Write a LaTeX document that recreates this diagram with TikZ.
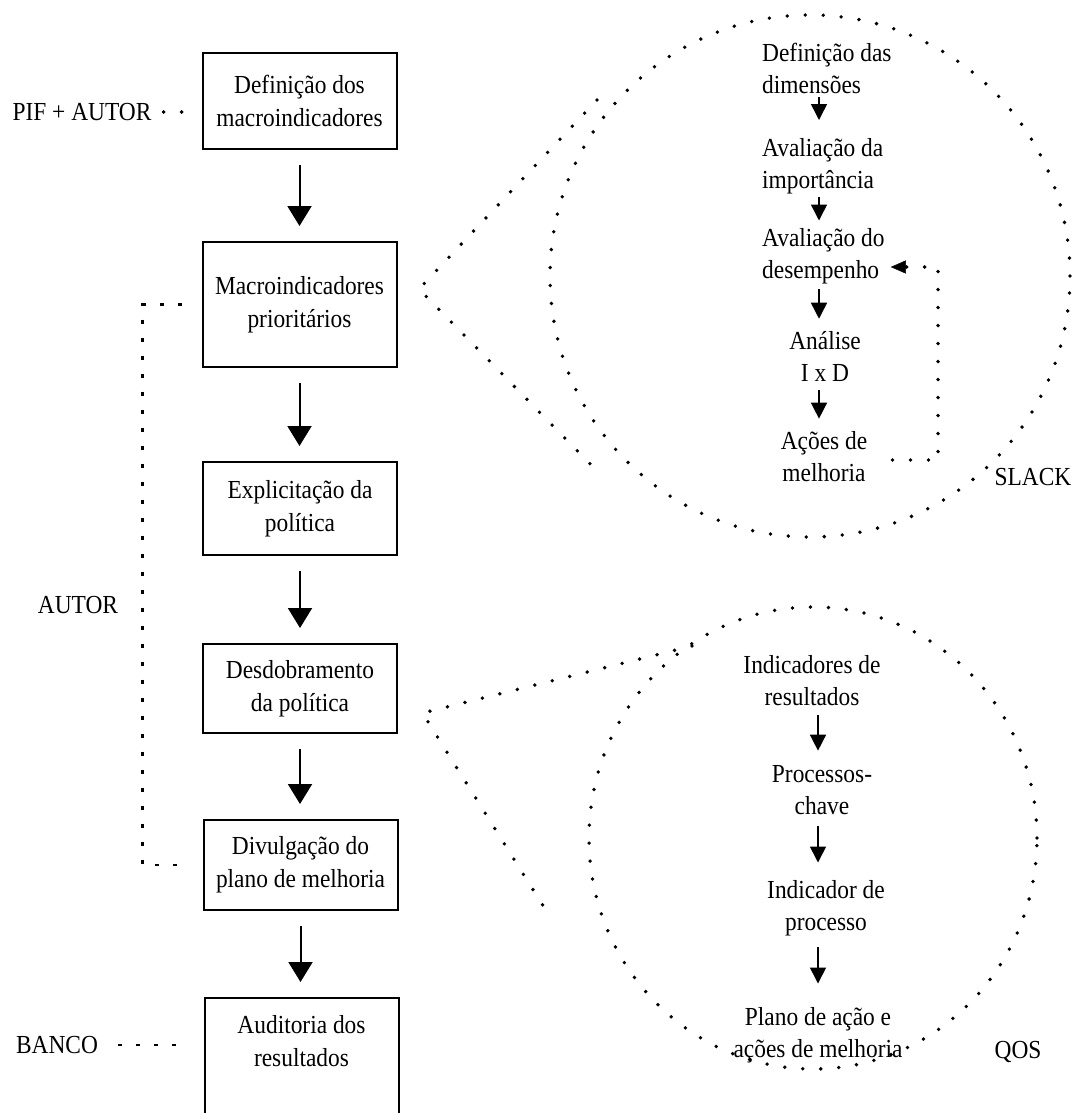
\documentclass[tikz,border=0pt]{standalone}
\usepackage{fontspec}
\newfontfamily\diagfont[FakeStretch=0.9]{Liberation Serif}
\newcommand\dgbox{\diagfont\fontsize{26}{33}\selectfont}
\newcommand\dginner{\diagfont\fontsize{26}{32}\selectfont}
\usetikzlibrary{arrows.meta,shapes.geometric}
\begin{document}
\begin{tikzpicture}[x=1pt,y=-1pt,
  flowbox/.style={draw, line width=2pt, minimum width=194pt, align=center, inner sep=0pt, font=\dgbox},
  lbl/.style={inner sep=0pt, align=center, font=\dgbox},
  stage/.style={inner sep=0pt, font=\dginner},
  flowarrow/.style={line width=2pt, -{Triangle[width=24pt,length=20pt]}, shorten <=15pt, shorten >=15pt},
  innerarrow/.style={line width=1.5pt, -{Triangle[width=16pt,length=16pt]}},
  dotline/.style={line width=3.8pt, line cap=round, dash pattern=on 0pt off 18pt},
  dashline/.style={line width=2.2pt, dash pattern=on 4pt off 14pt},
  zoomring/.style={ellipse, draw, dotline, inner sep=0pt}]

\useasboundingbox (0,0) rectangle (1090,1113);
\clip (0,0) rectangle (1090,1113);
\fill[white] (0,0) rectangle (1090,1113);

% main sequence of steps
\node[flowbox, minimum height=96pt]  (box1) at (299.5,101)  {Definição dos\\macroindicadores};
\node[flowbox, minimum height=125pt] (box2) at (299.5,304.5) {Macroindicadores\\prioritários};
\node[flowbox, minimum height=93pt]  (box3) at (300,508.5)  {Explicitação da\\política};
\node[flowbox, minimum height=89pt]  (box4) at (300,688.5)  {Desdobramento\\da política};
\node[flowbox, minimum height=90pt]  (box5) at (300.5,865)  {Divulgação do\\plano de melhoria};
\node[flowbox, minimum height=130pt] (box6) at (301.5,1063) {};
\node[lbl] (box6text) at (301.5,1041) {Auditoria dos\\resultados};

\draw[flowarrow] (box1.south) -- (box1.south |- box2.north);
\draw[flowarrow] (box2.south) -- (box2.south |- box3.north);
\draw[flowarrow] (box3.south) -- (box3.south |- box4.north);
\draw[flowarrow] (box4.south) -- (box4.south |- box5.north);
\draw[flowarrow] (box5.south) -- (box5.south |- box6.north);

% responsible parties
\node[lbl] (pif)   at (82,112)  {PIF + AUTOR};
\node[lbl] (autor) at (78,605)  {AUTOR};
\node[lbl] (banco) at (57,1045) {BANCO};
\draw[dotline, shorten <=12pt, shorten >=14pt] (pif.east) -- (pif.east -| box1.west);
\draw[dashline, shorten <=20pt, shorten >=26pt] (banco.east) -- (banco.east -| box6.west);
\draw[dashline] ([xshift=-20pt]box2.west) -- ++(-39,0) |- ([xshift=-20pt]box5.west);

% detail rings
\node[zoomring, minimum width=520pt, minimum height=522pt] (slack) at (810,276) {};
\node[zoomring, minimum width=448pt, minimum height=462pt] (qos) at (813,838) {};
\coordinate (sUp) at (597,100);
\coordinate (sLo) at (600,474);
\coordinate (qUp) at (692,646);
\coordinate (qLo) at (552,920);
\draw[dotline] (sUp) -- ([xshift=21.5pt,yshift=15.5pt]box2.east) -- (sLo);
\draw[dotline] (qUp) -- ([xshift=24.5pt,yshift=-24.5pt]box4.east) -- (qLo);

% SLACK method
\node[stage, align=left, anchor=west] (t1) at (762,68)    {Definição das\\dimensões};
\node[stage, align=left, anchor=west] (t2) at (762,166)   {Avaliação da\\importância};
\node[stage, align=left, anchor=west] (t3) at (762,256.5) {Avaliação do\\desempenho};
\node[stage, align=center] (t4) at (825,356) {Análise\\I x D};
\node[stage, align=center] (t5) at (824,457) {Ações de\\melhoria};
\node[lbl] (slacklbl) at (1033,477) {SLACK};

\coordinate (ax) at (819,0);
\draw[innerarrow, shorten <=4pt, shorten >=18pt] (t1.south -| ax) -- (t2.north -| ax);
\draw[innerarrow, shorten <=3pt, shorten >=8pt]  (t2.south -| ax) -- (t3.north -| ax);
\draw[innerarrow, shorten <=5pt, shorten >=12pt] (t3.south -| ax) -- (t4.north -| ax);
\draw[innerarrow, shorten <=9pt, shorten >=13pt] (t4.south -| ax) -- (t5.north -| ax);

\coordinate (fbLow) at (938,460);
\coordinate (fbHigh) at (938,267);
\draw[dotline, -{Triangle[width=13pt,length=15pt,line width=0.4pt]}]
  ([xshift=25pt]t5.east |- fbLow) -- (fbLow) -- (fbHigh) -- ([xshift=6pt]t3.east |- fbHigh);

% QOS method
\node[stage, align=center] (b1) at (812,680.5)  {Indicadores de\\resultados};
\node[stage, align=center] (b2) at (822,790.5)  {Processos-\\chave};
\node[stage, align=center] (b3) at (826,908.5)  {Indicador de\\processo};
\node[stage, align=center] (b4) at (818,1035.5) {Plano de ação e\\ações de melhoria};
\node[lbl] (qoslbl) at (1018,1052) {QOS};

\coordinate (bx) at (818,0);
\draw[innerarrow, shorten <=9pt, shorten >=15pt]  (b1.south -| bx) -- (b2.north -| bx);
\draw[innerarrow, shorten <=11pt, shorten >=18pt] (b2.south -| bx) -- (b3.north -| bx);
\draw[innerarrow, shorten <=11pt, shorten >=24pt] (b3.south -| bx) -- (b4.north -| bx);
\end{tikzpicture}
\end{document}
